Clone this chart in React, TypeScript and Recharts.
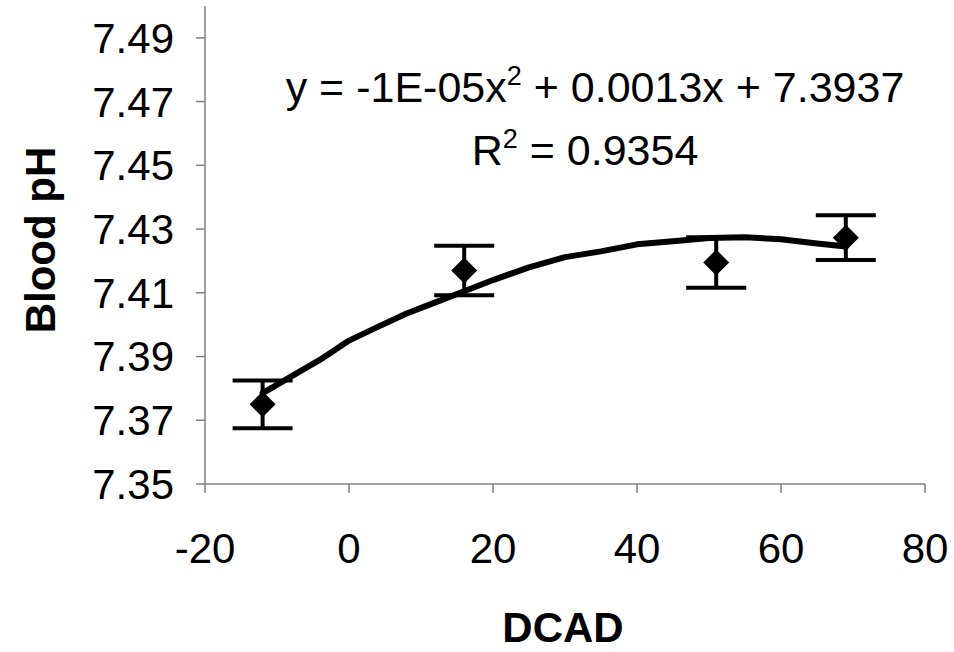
import React from 'react'
import { ScatterChart, Scatter, XAxis, YAxis, ErrorBar, Customized } from 'recharts'

// measured points (mean ± error)
const dcad = [-12, 16, 51, 69]
const bloodPh = [7.375, 7.417, 7.4195, 7.4273]
const phError = [0.0075, 0.0078, 0.0079, 0.007]

// polynomial trend line as drawn in the figure
const trendX = [-12, -8, -4, 0, 4, 8, 12, 16, 20, 25, 30, 35, 40, 45, 50, 55, 60, 65, 69]
const trendY = [
  7.3785, 7.3838, 7.389, 7.395, 7.3993, 7.4035, 7.407, 7.4105, 7.414, 7.418,
  7.4212, 7.423, 7.4252, 7.4262, 7.4272, 7.4274, 7.4268, 7.4255, 7.4245,
]

const xTicks = [-20, 0, 20, 40, 60, 80]
const yTicks = [7.35, 7.37, 7.39, 7.41, 7.43, 7.45, 7.47, 7.49]

const points = dcad.map((x, i) => ({ x, y: bloodPh[i], err: phError[i] }))
const trend = trendX.map((x, i) => ({ x, y: trendY[i] }))

const FONT = '"Liberation Sans", Arial, Helvetica, sans-serif'
const AXIS = '#808080'

function Diamond(props: any) {
  const { cx, cy } = props
  if (cx == null || cy == null) return null
  const r = 13
  return <polygon points={`${cx},${cy - r} ${cx + r},${cy} ${cx},${cy + r} ${cx - r},${cy}`} fill="#000" />
}

function Annotations() {
  return (
    <g fontFamily={FONT} fill="#000">
      <text x={595} y={102} fontSize={43} textAnchor="middle">
        y = -1E-05x<tspan dy={-17} fontSize={27}>2</tspan>
        <tspan dy={17}> + 0.0013x + 7.3937</tspan>
      </text>
      <text x={585} y={165} fontSize={43} textAnchor="middle">
        R<tspan dy={-17} fontSize={27}>2</tspan>
        <tspan dy={17}> = 0.9354</tspan>
      </text>
      <text
        x={0}
        y={0}
        fontSize={42}
        fontWeight="bold"
        textAnchor="middle"
        transform="translate(55 240) rotate(-90)"
      >
        Blood pH
      </text>
      <text x={563} y={642} fontSize={42} fontWeight="bold" textAnchor="middle">
        DCAD
      </text>
    </g>
  )
}

export default function App() {
  return (
    <div style={{ position: 'absolute', left: 0, top: 0, background: '#fff' }}>
      <ScatterChart width={954} height={652} margin={{ top: 6, right: 29, bottom: 0, left: 0 }}>
        <XAxis
          type="number"
          dataKey="x"
          domain={[-20, 80]}
          ticks={xTicks}
          allowDataOverflow
          height={168}
          tickSize={9}
          tickMargin={40}
          stroke={AXIS}
          strokeWidth={1.5}
          tick={{ fontSize: 42, fill: '#000', fontFamily: FONT }}
        />
        <YAxis
          type="number"
          dataKey="y"
          domain={[7.35, 7.5]}
          ticks={yTicks}
          allowDataOverflow
          width={205}
          tickSize={9}
          tickMargin={22}
          stroke={AXIS}
          strokeWidth={1.5}
          tickFormatter={(v: number) => v.toFixed(2)}
          tick={{ fontSize: 42, fill: '#000', fontFamily: FONT }}
        />
        <Scatter
          data={trend}
          line={{ stroke: '#000', strokeWidth: 6, strokeLinejoin: 'round', strokeLinecap: 'round' }}
          shape={() => null}
          isAnimationActive={false}
        />
        <Scatter data={points} shape={<Diamond />} isAnimationActive={false}>
          <ErrorBar dataKey="err" direction="y" width={30} stroke="#000" strokeWidth={4} isAnimationActive={false} />
        </Scatter>
        <Customized component={Annotations} />
      </ScatterChart>
    </div>
  )
}
